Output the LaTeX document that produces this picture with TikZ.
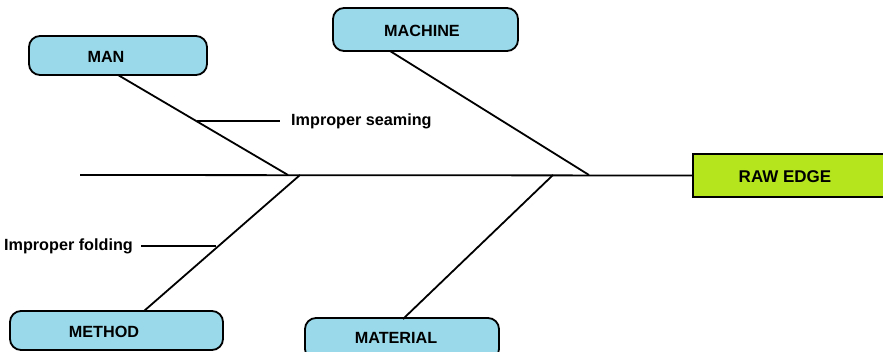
\documentclass[tikz,border=0pt]{standalone}
\usepackage{fontspec}
\setmainfont{Liberation Sans}
\definecolor{boxblue}{HTML}{99D9EA}
\definecolor{rawlime}{HTML}{B5E61D}
\tikzset{
  cause/.style={draw=black, line width=1.8pt, fill=boxblue, rounded corners=11pt, inner sep=0pt},
  effect/.style={draw=black, line width=2.2pt, fill=rawlime, inner sep=0pt},
  lbl/.style={font=\fontsize{16.2}{19}\selectfont\bfseries, inner sep=0pt},
  biglbl/.style={font=\fontsize{17}{20}\selectfont\bfseries, inner sep=0pt},
  bone/.style={line width=1.8pt, black},
}
\begin{document}
\begin{tikzpicture}[x=1pt, y=-1pt]
\useasboundingbox (0,0) rectangle (883,352);
\clip (0,0) rectangle (883,352);
% boxes
\node[cause, minimum width=178pt, minimum height=39pt] (manbox) at (118,55.5) {};
\node[cause, minimum width=185pt, minimum height=43pt] (machinebox) at (425.5,29.5) {};
\node[cause, minimum width=213pt, minimum height=39pt] (methodbox) at (116.5,330.5) {};
\node[cause, minimum width=194pt, minimum height=42pt] (materialbox) at (402,339) {};
\node[effect, minimum width=193pt, minimum height=43pt] (rawbox) at (789.5,175.5) {};
% labels
\node[lbl] (man) at (106,57) {MAN};
\node[lbl] (machine) at (422,31) {MACHINE};
\node[lbl] (method) at (104,332) {METHOD};
\node[lbl] (material) at (396,338) {MATERIAL};
\node[biglbl] (raw) at (785,177) {RAW EDGE};
\node[lbl, anchor=west] (seam) at (291,121) {Improper seaming};
\node[lbl, anchor=east] (fold) at (133,246) {Improper folding};
% coordinates on bones
\coordinate (tail) at (80,175);
\coordinate (manj) at (288,175);
\coordinate (methj) at (300,175);
\coordinate (matj) at (553,175);
\coordinate (macj) at (589,175);
\coordinate (mant) at (118,75);
\coordinate (macht) at (390,51);
\coordinate (metht) at (144,311);
\coordinate (matt) at (403,319);
\coordinate (seamj) at (197,121);
\coordinate (seame) at (280,121);
\coordinate (foldj) at (216,246);
\coordinate (folde) at (141,246);
% spine
\draw[bone] (tail) -- (rawbox.west);
% bones
\draw[bone] (mant) -- (manj);
\draw[bone] (methj) -- (metht);
\draw[bone] (macht) -- (macj);
\draw[bone] (matj) -- (matt);
% sub-causes
\draw[bone] (seamj) -- (seame);
\draw[bone] (folde) -- (foldj);
\end{tikzpicture}
\end{document}
